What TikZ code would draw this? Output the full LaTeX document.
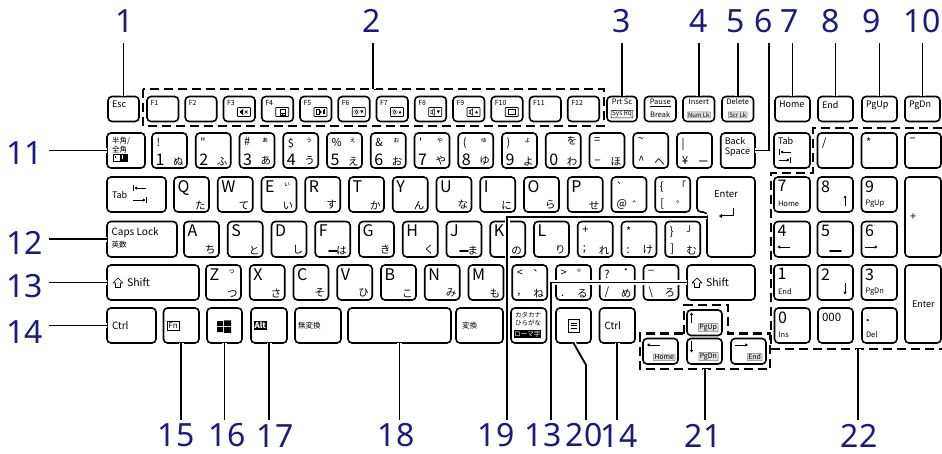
\documentclass[tikz,border=0pt]{standalone}
\usepackage{fontspec}
\setmainfont{Noto Sans CJK JP}
\newfontfamily\numfont{Noto Sans}
\usetikzlibrary{arrows.meta}
\definecolor{navy}{RGB}{26,26,128}
\newcommand\myfs[1]{\fontsize{#1}{#1}\selectfont}
\newcommand\kb[6]{\node[keyst,minimum width={#4-#2},minimum height={#5-#3},#6] (#1) at ({(#2+#4)/2},{(#3+#5)/2}) {};}
\newcommand\icn[2]{\begin{scope}[shift={([shift={(-11,-9.5)}]#1.south east)}]\draw[line width=0.6pt,rounded corners=0.6pt] (-6.5,-4.5) rectangle (6.5,4.5);#2\end{scope}}
\tikzset{
 keyst/.style={draw,line width=1.6pt,rounded corners=4pt,inner sep=0pt,outer sep=0pt},
 lb/.style={inner sep=0pt,outer sep=0pt},
 TLb/.style={label={[lb,font=\myfs{16},anchor=north west,xshift=3.5pt,yshift=-3.5pt]north west:{#1}}},
 TLs/.style={label={[lb,font=\myfs{11},anchor=north west,xshift=4.5pt,yshift=-5pt]north west:{#1}}},
 TLl/.style={label={[lb,font=\fontsize{9}{10}\selectfont,align=left,anchor=north west,xshift=4pt,yshift=-4.5pt]north west:{#1}}},
 TLt/.style={label={[lb,font=\myfs{7},anchor=north west,xshift=3.5pt,yshift=-3.5pt]north west:{#1}}},
 BLb/.style={label={[lb,font=\myfs{16},anchor=south west,xshift=3.5pt,yshift=2.5pt]south west:{#1}}},
 BLs/.style={label={[lb,font=\myfs{11},anchor=south west,xshift=5pt,yshift=3pt]south west:{#1}}},
 BLl/.style={label={[lb,font=\myfs{7.5},anchor=south west,xshift=4pt,yshift=5pt]south west:{#1}}},
 BRk/.style={label={[lb,font=\myfs{10.5},anchor=south east,xshift=-3.5pt,yshift=2.5pt]south east:{#1}}},
 TRk/.style={label={[lb,font=\myfs{7},anchor=north east,xshift=-6pt,yshift=-5pt]north east:{#1}}},
 TRn/.style={label={[lb,font=\myfs{10},anchor=north east,xshift=-4pt,yshift=-4pt]north east:{#1}}},
 Wl/.style={label={[lb,font=\myfs{9},anchor=west,xshift=5pt]west:{#1}}},
 Wc/.style={label={[lb,font=\myfs{10},anchor=west,xshift=5pt]west:{#1}}},
 gbox/.style={lb,font=\myfs{7},draw=gray,fill=gray!25,line width=0.5pt,rounded corners=0.5pt,inner xsep=1pt,inner ysep=0.6pt},
 arr/.style={line width=0.9pt,-{Triangle[length=2.6pt,width=3pt]}},
 conn/.style={line width=1.8pt,preaction={draw=white,line width=5pt}},
 dsh/.style={line width=2.2pt,dash pattern=on 9pt off 5pt},
 num/.style={text=navy,font=\numfont\myfs{32},inner sep=0pt,outer sep=0pt},
}
\begin{document}
\begin{tikzpicture}[x=1pt,y=-1pt]
\useasboundingbox (0,0) rectangle (942,454);
% ---------- function row
\kb{esc}{108}{96.5}{139}{121.5}{TLl={Esc}}
\foreach \i in {1,...,12}{\pgfmathsetmacro\xa{147+38.25*(\i-1)}\kb{f\i}{\xa}{96.5}{\xa+31.5}{121.5}{TLt={F\i}}}
\icn{f3}{\fill (-4.5,-1.2) rectangle (-3,1.2); \fill (-3,-1.2) -- (-1,-3) -- (-1,3) -- (-3,1.2) -- cycle; \draw[line width=0.5pt] (0.8,-1.5) -- (3.8,1.5) (0.8,1.5) -- (3.8,-1.5);}
\icn{f4}{\draw[line width=0.4pt] (-2.5,-3) rectangle (2.5,3); \draw[line width=0.4pt] (-2.5,0.8) -- (2.5,0.8) (0,0.8) -- (0,3);}
\icn{f5}{\draw[line width=0.4pt] (-4.5,-2.5) rectangle (-1.5,2.5); \fill (-0.8,-2) -- (1.4,0) -- (-0.8,2) -- cycle; \draw[line width=0.5pt] (2.4,-2) -- (2.4,2) (3.8,-2.5) -- (3.8,2.5);}
\icn{f6}{\draw[line width=0.5pt] (-2.3,0) circle (1.6); \draw[line width=0.4pt,densely dotted] (-2.3,0) circle (2.8); \fill (1.5,-1.5) -- (4.5,-1.5) -- (3,1.5) -- cycle;}
\icn{f7}{\draw[line width=0.5pt] (-2.3,0) circle (1.6); \draw[line width=0.4pt,densely dotted] (-2.3,0) circle (2.8); \fill (1.5,1.5) -- (4.5,1.5) -- (3,-1.5) -- cycle;}
\icn{f8}{\draw[line width=0.5pt] (-4.5,-1.3) rectangle (-3,1.3) (-3,-1.3) -- (-1,-3) -- (-1,3) -- (-3,1.3); \fill (1.5,-1.5) -- (4.5,-1.5) -- (3,1.5) -- cycle;}
\icn{f9}{\draw[line width=0.5pt] (-4.5,-1.3) rectangle (-3,1.3) (-3,-1.3) -- (-1,-3) -- (-1,3) -- (-3,1.3); \fill (1.5,1.5) -- (4.5,1.5) -- (3,-1.5) -- cycle;}
\icn{f10}{\draw[line width=0.9pt] (-3.5,-2.5) rectangle (3.5,2.5);}
\kb{prt}{607}{96.5}{637}{121.5}{label={[lb,font=\myfs{7.5},anchor=north,yshift=-2.5pt]north:{Prt Sc}},label={[lb,font=\myfs{6.5},draw,line width=0.5pt,rounded corners=0.5pt,inner xsep=1pt,inner ysep=0.6pt,anchor=south,yshift=3.5pt]south:{Sys Rq}}}
\kb{pause}{644.5}{96.5}{676}{121.5}{label={[lb,font=\myfs{7.5},anchor=north,yshift=-2.5pt]north:{\underline{Pause}}},label={[lb,font=\myfs{7.5},anchor=south,yshift=3.5pt]south:{Break}}}
\kb{ins}{683}{96.5}{714.5}{121.5}{label={[lb,font=\myfs{7.5},anchor=north,yshift=-2.5pt]north:{Insert}},label={[gbox,font=\myfs{6},anchor=south,yshift=3.5pt]south:{Num Lk}}}
\kb{del}{722}{96.5}{753.5}{121.5}{label={[lb,font=\myfs{7.5},anchor=north,yshift=-2.5pt]north:{Delete}},label={[gbox,font=\myfs{6},anchor=south,yshift=3.5pt]south:{Scr Lk}}}
\kb{home}{775}{96.5}{810}{121.5}{TLl={Home}}
\kb{end}{818}{96.5}{853}{121.5}{TLl={End}}
\kb{pgup}{862}{96.5}{897}{121.5}{TLl={PgUp}}
\kb{pgdn}{905}{96.5}{940}{121.5}{TLl={PgDn}}
% ---------- number row
\kb{hz}{107}{133}{145}{168}{label={[lb,font=\fontsize{7.5}{8.5}\selectfont,align=left,anchor=north west,xshift=5pt,yshift=-4.5pt]north west:{半角/\\全角}}}
\draw[line width=0.6pt] (113,154) rectangle (127,161);
\fill (120,154) rectangle (127,161);
\fill[white] (121.5,155.5) rectangle (123,159.5);
\draw[line width=0.6pt] (115,158.5) -- (115,156);
\kb{k1}{152}{133}{187}{168}{TLs={!},BLb={1},BRk={ぬ}}
\kb{k2}{195.75}{133}{230.75}{168}{TLs={\textquotedbl},BLb={2},BRk={ふ}}
\kb{k3}{239.5}{133}{274.5}{168}{TLs={\#},TRk={ぁ},BLb={3},BRk={あ}}
\kb{k4}{283.25}{133}{318.25}{168}{TLs={\$},TRk={ぅ},BLb={4},BRk={う}}
\kb{k5}{327}{133}{362}{168}{TLs={\%},TRk={ぇ},BLb={5},BRk={え}}
\kb{k6}{370.75}{133}{405.75}{168}{TLs={\&},TRk={ぉ},BLb={6},BRk={お}}
\kb{k7}{414.5}{133}{449.5}{168}{TLs={\textquotesingle},TRk={ゃ},BLb={7},BRk={や}}
\kb{k8}{458.25}{133}{493.25}{168}{TLs={(},TRk={ゅ},BLb={8},BRk={ゆ}}
\kb{k9}{502}{133}{537}{168}{TLs={)},TRk={ょ},BLb={9},BRk={よ}}
\kb{k0}{545.75}{133}{580.75}{168}{TRn={を},BLb={0},BRk={わ}}
\kb{kmin}{589.5}{133}{624.5}{168}{TLs={=},BLs={−},BRk={ほ}}
\kb{kcar}{633.25}{133}{668.25}{168}{TLs={\textasciitilde},BLs={\textasciicircum},BRk={へ}}
\kb{kyen}{677}{133}{712}{168}{TLs={|},BLs={¥},BRk={ー}}
\kb{bs}{720.75}{133}{755}{168}{TLl={Back\\Space}}
\kb{ntab}{774}{133}{810}{168}{TLl={Tab}}
\draw[line width=0.8pt] (779.5,149) -- (779.5,155) (790.5,157) -- (790.5,163);
\draw[arr] (791,152) -- (780.5,152);
\draw[arr] (779,160) -- (789.5,160);
\kb{nsl}{817.5}{133}{853}{168}{TLs={/}}
\kb{nst}{861.5}{133}{897}{168}{TLs={*}}
\kb{nmi}{905}{133}{941}{168}{TLs={−}}
% ---------- qwerty row
\kb{tab}{107}{177}{166}{212}{Wl={Tab}}
\draw[line width=0.8pt] (133.5,185) -- (133.5,191) (146.5,197) -- (146.5,203);
\draw[arr] (146,188) -- (134.5,188);
\draw[arr] (133,200) -- (145.5,200);
\kb{kq}{174}{177}{209}{212}{TLb={Q},BRk={た}}
\kb{kw}{217.75}{177}{252.75}{212}{TLb={W},BRk={て}}
\kb{ke}{261.5}{177}{296.5}{212}{TLb={E},TRk={ぃ},BRk={い}}
\kb{kr}{305.25}{177}{340.25}{212}{TLb={R},BRk={す}}
\kb{kt}{349}{177}{384}{212}{TLb={T},BRk={か}}
\kb{ky}{392.75}{177}{427.75}{212}{TLb={Y},BRk={ん}}
\kb{ku}{436.5}{177}{471.5}{212}{TLb={U},BRk={な}}
\kb{ki}{480.25}{177}{515.25}{212}{TLb={I},BRk={に}}
\kb{ko}{524}{177}{559}{212}{TLb={O},BRk={ら}}
\kb{kp}{567.75}{177}{602.75}{212}{TLb={P},BRk={せ}}
\kb{kat}{611.5}{177}{646.5}{212}{TLs={\textasciigrave},BLs={@},BRk={゛}}
\kb{klb}{655.25}{177}{690.25}{212}{TLs={\{},TRn={「},BLs={[},BRk={゜}}
\draw[line width=1.6pt,rounded corners=4pt] (697,177) -- (755,177) -- (755,257) -- (707,257) -- (707,212) -- (697,212) -- cycle;
\node[lb,font=\myfs{9.5}] (entl) at (726,194.5) {Enter};
\draw[line width=1pt,-{Triangle[length=3pt,width=4pt]}] (733,208.5) -- (733,216) -- (719,216);
\kb{n7}{774}{177}{810}{212}{TLb={7},BLl={Home}}
\kb{n8}{817.5}{177}{853}{212}{TLb={8}}
\draw[arr] (845,206) -- (845,195.5);
\kb{n9}{861.5}{177}{897}{212}{TLb={9},BLl={PgUp}}
\kb{nplus}{905}{177}{941}{257}{label={[lb,font=\myfs{11},anchor=west,xshift=5pt]west:{+}}}
% ---------- home row
\kb{caps}{107}{221.5}{177}{257}{label={[lb,font=\myfs{10},anchor=north west,xshift=4.5pt,yshift=-6pt]north west:{Caps Lock}},label={[lb,font=\myfs{7.5},anchor=north west,xshift=4.5pt,yshift=-19.5pt]north west:{英数}}}
\kb{ka}{184}{221.5}{219}{257}{TLb={A},BRk={ち}}
\kb{ks}{227.75}{221.5}{262.75}{257}{TLb={S},BRk={と}}
\kb{kd}{271.5}{221.5}{306.5}{257}{TLb={D},BRk={し}}
\kb{kf}{315.25}{221.5}{350.25}{257}{TLb={F},BRk={は}}
\kb{kg}{359}{221.5}{394}{257}{TLb={G},BRk={き}}
\kb{kh}{402.75}{221.5}{437.75}{257}{TLb={H},BRk={く}}
\kb{kj}{446.5}{221.5}{481.5}{257}{TLb={J},BRk={ま}}
\kb{kk}{490.25}{221.5}{525.25}{257}{TLb={K},BRk={の}}
\kb{kL}{534}{221.5}{569}{257}{TLb={L},BRk={り}}
\kb{ksemi}{577.75}{221.5}{612.75}{257}{TLs={+},BLs={;},BRk={れ}}
\kb{kcol}{621.5}{221.5}{656.5}{257}{TLs={*},BLs={:},BRk={け}}
\kb{krb}{665.25}{221.5}{700.25}{257}{TLs={\}},TRn={」},BLs={]},BRk={む}}
\draw[line width=1.6pt,line cap=round] (329,251) -- (337,251) (460,251) -- (468,251);
\kb{n4}{774}{221.5}{810}{257}{TLb={4}}
\draw[arr] (790,247) -- (777.5,247);
\kb{n5}{817.5}{221.5}{853}{257}{TLb={5}}
\draw[line width=1.8pt,line cap=round] (830,251) -- (841,251);
\kb{n6}{861.5}{221.5}{897}{257}{TLb={6}}
\draw[arr] (865,247) -- (877.5,247);
% ---------- bottom letter row
\kb{lsh}{107}{265}{199}{300}{label={[lb,font=\myfs{10.5},anchor=west,xshift=20pt]west:{Shift}}}
\draw[line width=0.7pt,line join=round] (118,278) -- (123,283) -- (120.5,283) -- (120.5,287.5) -- (115.5,287.5) -- (115.5,283) -- (113,283) -- cycle;
\kb{kz}{206}{265}{241}{300}{TLb={Z},TRk={っ},BRk={つ}}
\kb{kx}{249.75}{265}{284.75}{300}{TLb={X},BRk={さ}}
\kb{kc}{293.5}{265}{328.5}{300}{TLb={C},BRk={そ}}
\kb{kv}{337.25}{265}{372.25}{300}{TLb={V},BRk={ひ}}
\kb{kb}{381}{265}{416}{300}{TLb={B},BRk={こ}}
\kb{kn}{424.75}{265}{459.75}{300}{TLb={N},BRk={み}}
\kb{km}{468.5}{265}{503.5}{300}{TLb={M},BRk={も}}
\kb{kcom}{512.25}{265}{547.25}{300}{TLs={<},TRn={、},BLs={,},BRk={ね}}
\kb{kper}{556}{265}{591}{300}{TLs={>},TRn={。},BLs={.},BRk={る}}
\kb{ksl}{599.75}{265}{634.75}{300}{TLs={?},TRn={・},BLs={/},BRk={め}}
\kb{kbsl}{643.5}{265}{678.5}{300}{TLs={\_},BLs={\textbackslash},BRk={ろ}}
\kb{rsh}{687}{265}{755}{300}{label={[lb,font=\myfs{10.5},anchor=west,xshift=19pt]west:{Shift}}}
\draw[line width=0.7pt,line join=round] (697,278) -- (702,283) -- (699.5,283) -- (699.5,287.5) -- (694.5,287.5) -- (694.5,283) -- (692,283) -- cycle;
\kb{n1}{774}{265}{810}{300}{TLb={1},BLl={End}}
\kb{n2}{817.5}{265}{853}{300}{TLb={2}}
\draw[arr] (845,283) -- (845,294.5);
\kb{n3}{861.5}{265}{897}{300}{TLb={3},BLl={PgDn}}
\kb{nent}{905}{265}{941}{343}{label={[lb,font=\myfs{9},anchor=west,xshift=7pt]west:{Enter}}}
% ---------- space row
\kb{lctrl}{107}{308}{156}{343}{Wc={Ctrl}}
\kb{fn}{163.5}{308}{199}{343}{label={[lb,font=\myfs{8},draw,line width=0.6pt,inner xsep=1.2pt,inner ysep=1.5pt,anchor=west,xshift=4pt]west:{Fn}}}
\kb{win}{207}{308}{242}{343}{}
\fill (217,321) rectangle (223,326.2) (224,320.3) rectangle (231,326.2) (217,327) rectangle (223,332.2) (224,327) rectangle (231,332.8);
\kb{alt}{251}{308}{287}{343}{label={[lb,fill=black,text=white,font=\myfs{8}\bfseries,inner xsep=1pt,inner ysep=1.5pt,anchor=west,xshift=2.5pt]west:{Alt}}}
\kb{muh}{295}{308}{341}{343}{label={[lb,font=\myfs{7.5},anchor=west,xshift=3pt]west:{無変換}}}
\kb{space}{348}{308}{451}{343}{}
\kb{hen}{456}{308}{503}{343}{label={[lb,font=\myfs{7.5},anchor=west,xshift=6pt]west:{変換}}}
\kb{kana}{511}{308}{546.5}{343}{label={[lb,font=\fontsize{6.5}{8}\selectfont,align=left,anchor=north west,xshift=4pt,yshift=-4pt]north west:{カタカナ\\ひらがな}},label={[lb,fill=black,text=white,font=\myfs{6.5},inner xsep=0.8pt,inner ysep=0.8pt,anchor=south west,xshift=2.5pt,yshift=5pt]south west:{ローマ字}}}
\kb{menu}{556}{308}{591}{343}{}
\draw[line width=0.7pt] (568,319.5) rectangle (579,332);
\draw[line width=0.7pt] (570.5,323) -- (576.5,323) (570.5,325.8) -- (576.5,325.8) (570.5,328.6) -- (576.5,328.6);
\kb{rctrl}{599.5}{308}{635}{343}{Wc={Ctrl}}
\kb{up}{687}{310}{722}{335.5}{label={[gbox,anchor=south east,xshift=-4pt,yshift=4pt]south east:{PgUp}}}
\draw[arr] (691.5,323) -- (691.5,312.5);
\kb{left}{643}{338.5}{678}{364}{label={[gbox,anchor=south east,xshift=-3pt,yshift=3.5pt]south east:{Home}}}
\draw[arr] (660,345) -- (647,345);
\kb{down}{687}{338.5}{722}{364}{label={[gbox,anchor=south east,xshift=-4pt,yshift=3.5pt]south east:{PgDn}}}
\draw[arr] (691.5,340.5) -- (691.5,352.5);
\kb{right}{731}{338.5}{766}{364}{label={[gbox,anchor=south east,xshift=-4pt,yshift=3.5pt]south east:{End}}}
\draw[arr] (735,345) -- (748,345);
\kb{n0}{774.5}{308}{810}{343}{TLb={0},BLl={Ins}}
\kb{n000}{818}{308}{853}{343}{label={[lb,font=\myfs{11.5},anchor=north west,xshift=4pt,yshift=-5pt]north west:{000}}}
\kb{ndot}{862}{308}{897}{343}{label={[lb,font=\myfs{16},anchor=base west,xshift=3.5pt,yshift=-13pt]north west:{.}},BLl={Del}}
% ---------- dashed groups
\draw[dsh] (143,89) rectangle (604,126);
\draw[dsh] (942,128) -- (813,128) -- (813,173) -- (771,173) -- (771,349) -- (942,349);
\draw[dsh] (684,333.5) -- (684,305) -- (728,305) -- (728,333.5) -- (770,333.5) -- (770,369) -- (640,369) -- (640,333.5) -- cycle;
% ---------- connectors
\coordinate (topline) at (0,43);
\coordinate (botline) at (0,420);
\coordinate (leftline) at (49,0);
\coordinate (fk2) at (373,89);
\coordinate (c6) at (769,0);
\coordinate (en19) at (707,217);
\coordinate (c19) at (507,0);
\coordinate (c13) at (551,0);
\coordinate (c20) at (586,365);
\coordinate (ar21) at (705,369);
\coordinate (np22) at (858,349);
\foreach \k in {esc,prt,ins,del,home,end,pgup,pgdn}{\draw[conn] (\k.north) -- (\k.north |- topline);}
\draw[conn] (fk2) -- (fk2 |- topline);
\draw[conn] (bs.east) -| (c6 |- topline);
\foreach \k in {hz,caps,lsh,lctrl}{\draw[conn] (\k.west) -- (\k.west -| leftline);}
\foreach \k in {fn,win,alt,space,rctrl}{\draw[conn] (\k.south) -- (\k.south |- botline);}
\draw[conn] (en19) -| (c19 |- botline);
\draw[conn] (rsh.west) -| (c13 |- botline);
\draw[conn] (menu.south) -- (c20) -- (c20 |- botline);
\draw[conn] (ar21) -- (ar21 |- botline);
\draw[conn] (np22) -- (np22 |- botline);
% ---------- callout numbers
\node[num,anchor=south] (l1) at (125,33) {1};
\node[num,anchor=south] (l2) at (372,33) {2};
\node[num,anchor=south] (l3) at (622,33) {3};
\node[num,anchor=south] (l4) at (699,33) {4};
\node[num,anchor=south] (l5) at (736,33) {5};
\node[num,anchor=south] (l6) at (764,33) {6};
\node[num,anchor=south] (l7) at (790,33) {7};
\node[num,anchor=south] (l8) at (831,33) {8};
\node[num,anchor=south] (l9) at (872,33) {9};
\node[num,anchor=south] (l10) at (922,33) {10};
\node[num,anchor=south east] (l11) at (43,165) {11};
\node[num,anchor=south east] (l12) at (43,255) {12};
\node[num,anchor=south east] (l13) at (43,298) {13};
\node[num,anchor=south east] (l14) at (43,343) {14};
\node[num,anchor=south] (l15) at (176,447) {15};
\node[num,anchor=south] (l16) at (227,447) {16};
\node[num,anchor=south] (l17) at (275,447) {17};
\node[num,anchor=south] (l18) at (396,447) {18};
\node[num,anchor=south] (l19) at (496,447) {19};
\node[num,anchor=south] (l13b) at (543,447) {13};
\node[num,anchor=south] (l20) at (584,447) {20};
\node[num,anchor=south] (l14b) at (619,447) {14};
\node[num,anchor=south] (l21) at (703,447) {21};
\node[num,anchor=south] (l22) at (859,447) {22};
\end{tikzpicture}
\end{document}
